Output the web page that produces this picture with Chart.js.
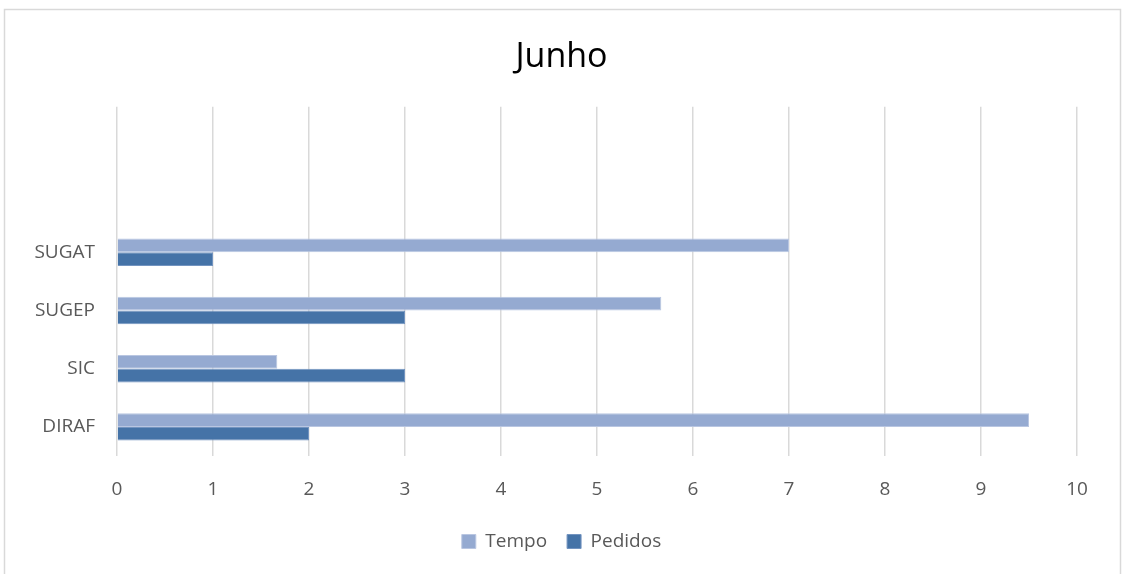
<!DOCTYPE html>
<html>
<head>
<meta charset="utf-8">
<title>Junho</title>
<script src="https://cdn.jsdelivr.net/npm/chart.js@4"></script>
<style>
    html, body { margin: 0; padding: 0; background: #fff; }
    #wrap { width: 1123px; height: 574px; position: relative; }
</style>
</head>
<body>
<div id="wrap"><canvas id="chart" width="1123" height="574"></canvas></div>
<script>
// Categories top to bottom (two empty slots above, as in the sheet)
const categories = ['', '', 'SUGAT', 'SUGEP', 'SIC', 'DIRAF'];
const tempo = [null, null, 7, 5.67, 1.67, 9.5];
const pedidos = [null, null, 1, 3, 3, 2];
const xTicks = [0, 1, 2, 3, 4, 5, 6, 7, 8, 9, 10];

const FONT = "'Open Sans', 'Noto Sans', sans-serif";

// white background + light frame around the chart area
const frame = {
    id: 'frame',
    beforeDraw(chart) {
        const ctx = chart.ctx;
        ctx.save();
        ctx.fillStyle = '#fff';
        ctx.fillRect(0, 0, chart.width, chart.height);
        ctx.strokeStyle = '#d9d9d9';
        ctx.lineWidth = 1.5;
        ctx.strokeRect(4.5, 9.5, 1116, 600);
        ctx.restore();
    }
};

new Chart(document.getElementById('chart').getContext('2d'), {
    type: 'bar',
    data: {
        labels: categories,
        datasets: [
            {
                label: 'Tempo',
                data: tempo,
                backgroundColor: '#95aad1',
                borderColor: '#b9c6e1',
                borderWidth: 1
            },
            {
                label: 'Pedidos',
                data: pedidos,
                backgroundColor: '#4573a7',
                borderColor: '#7394c0',
                borderWidth: 1
            }
        ]
    },
    options: {
        indexAxis: 'y',
        responsive: false,
        animation: false,
        datasets: {
            bar: { categoryPercentage: 0.47, barPercentage: 1 }
        },
        layout: { padding: { left: 0, right: 0, top: 0, bottom: 13 } },
        scales: {
            x: {
                min: 0,
                max: 10,
                afterBuildTicks: (scale) => { scale.ticks = xTicks.map(v => ({ value: v })); },
                afterFit: (scale) => { scale.height = 56; },
                grid: { color: '#d9d9d9', lineWidth: 1.5, drawTicks: false },
                border: { display: false },
                ticks: { color: '#595959', font: { family: FONT, size: 19 }, padding: 22 }
            },
            y: {
                afterFit: (scale) => { scale.width = 117; },
                grid: { display: false, drawTicks: false },
                border: { display: false },
                ticks: { color: '#595959', font: { family: FONT, size: 19 }, padding: 22 }
            },
            // empty right-hand gutter so title and legend centre on the full width
            gutter: {
                type: 'linear',
                position: 'right',
                afterFit: (scale) => { scale.width = 46; },
                grid: { display: false, drawTicks: false },
                border: { display: false },
                ticks: { display: false }
            }
        },
        plugins: {
            title: {
                display: true,
                text: 'Junho',
                color: '#000',
                font: { family: FONT, size: 34, weight: 'normal' },
                padding: { top: 37, bottom: 29 }
            },
            legend: {
                position: 'bottom',
                labels: {
                    color: '#595959',
                    font: { family: FONT, size: 19 },
                    boxWidth: 14,
                    boxHeight: 14,
                    padding: 20
                }
            },
            tooltip: { enabled: false }
        }
    },
    plugins: [frame]
});
</script>
</body>
</html>
